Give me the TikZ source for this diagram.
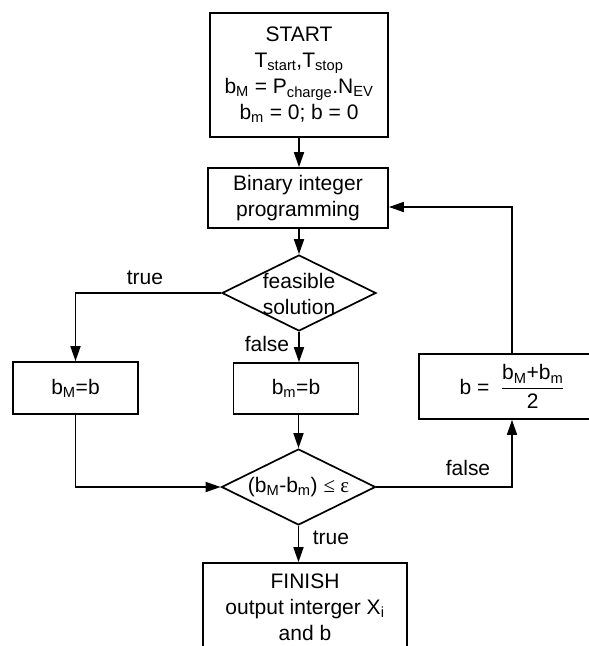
\documentclass[tikz,border=0pt]{standalone}
\usepackage{amsmath}
\usepackage{fontspec}
\setmainfont{Liberation Sans}
\newfontfamily\symserif{Liberation Serif}
\usetikzlibrary{arrows.meta,shapes.geometric}

\begin{document}
\begin{tikzpicture}[x=1pt,y=-1pt,line width=1.7pt,
  font=\fontsize{21}{26}\selectfont,
  box/.style={draw,inner sep=0pt,align=center},
  decision/.style={draw,diamond,inner sep=0pt,minimum width=154pt,minimum height=76pt},
  flow/.style={-{Triangle[length=15pt,width=10pt]}}]
\useasboundingbox (0,0) rectangle (589,646);
% boxes
\node[box,minimum width=178pt,minimum height=124pt] (start) at (299,75)
  {START\\T\textsubscript{start},T\textsubscript{stop}\\b\textsubscript{M} = P\textsubscript{charge}.N\textsubscript{EV}\\b\textsubscript{m} = 0; b = 0};
\node[box,minimum width=180pt,minimum height=60pt] (bip) at (298,198) {Binary integer\\programming};
\node[decision] (feas) at (299,293) {};
\node[align=center,inner sep=0pt] (feastxt) at (299,294) {feasible\\solution};
\node[box,minimum width=125pt,minimum height=52pt] (bup) at (75.5,388) {b\textsubscript{M}=b};
\node[box,minimum width=125pt,minimum height=51pt] (blow) at (296,388.5) {b\textsubscript{m}=b};
\node[box,minimum width=186pt,minimum height=65pt] (bhalf) at (512,386.5)
  {b =\ \ $\dfrac{\text{b\textsubscript{M}+b\textsubscript{m}}}{\text{2}}$};
\node[decision] (test) at (298.5,487) {};
\node[inner sep=0pt] (testtxt) at (298.5,487) {(b\textsubscript{M}-b\textsubscript{m}) {\symserif ≤ ε}};
\node[box,minimum width=204pt,minimum height=88pt] (finish) at (305,607)
  {FINISH\\output interger X\textsubscript{i}\\and b};
% labels
\node (ltrue) at (145,278) {true};
\node[anchor=east,inner sep=0pt] (lfalse) at (290,344) {false};
\node (lfalse2) at (468,468) {false};
\node[anchor=west,inner sep=0pt] (ltrue2) at (312,538) {true};
% connectors
\draw[flow] (start.south) -- (start.south |- bip.north);
\draw[flow] (bip.south -| feas.north) -- (feas.north);
\draw[flow] (feas.west) -| (bup.north);
\draw[flow] (feas.south) -- (feas.south |- blow.north);
\draw[flow] (bup.south) |- (test.west);
\draw[flow] (test.north |- blow.south) -- (test.north);
\draw[flow] (test.east) -| (bhalf.south);
\draw[flow] (bhalf.north) |- ([yshift=-9pt]bip.east);
\draw[flow] (test.south) -- (test.south |- finish.north);
\end{tikzpicture}
\end{document}
